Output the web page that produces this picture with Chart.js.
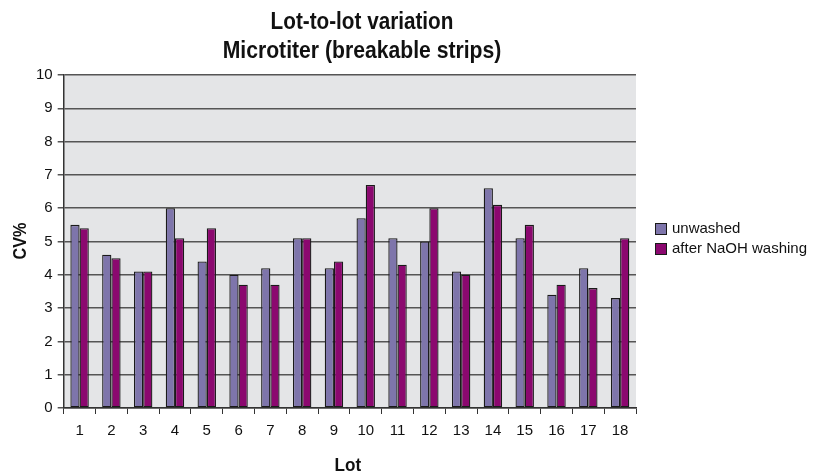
<!DOCTYPE html>
<html>
<head>
<meta charset="utf-8">
<script src="https://cdn.jsdelivr.net/npm/chart.js@4.4.1/dist/chart.umd.min.js"></script>
<style>
  html, body { margin: 0; padding: 0; background: #ffffff; }
  #wrap { width: 826px; height: 473px; }
</style>
</head>
<body>
<div id="wrap"><canvas id="chartLotes" width="826" height="473"></canvas></div>
<script>
var lotes = ['1','2','3','4','5','6','7','8','9','10','11','12','13','14','15','16','17','18'];
var sinLavar = [5.5, 4.6, 4.1, 6.0, 4.4, 4.0, 4.2, 5.1, 4.2, 5.7, 5.1, 5.0, 4.1, 6.6, 5.1, 3.4, 4.2, 3.3];
var conNaOH = [5.4, 4.5, 4.1, 5.1, 5.4, 3.7, 3.7, 5.1, 4.4, 6.7, 4.3, 6.0, 4.0, 6.1, 5.5, 3.7, 3.6, 5.1];
var ticksY = [0, 1, 2, 3, 4, 5, 6, 7, 8, 9, 10];
var titulo = ['Lot-to-lot variation', 'Microtiter (breakable strips)'];
var tituloX = 'Lot';
var tituloY = 'CV%';

var fuente = "'Liberation Sans', Arial, sans-serif";

// texto en negrita "estrecho": se comprime en horizontal
function textoAngosto(ctx, txt, x, y, size, escala, rot) {
    ctx.save();
    ctx.translate(x, y);
    if (rot) { ctx.rotate(rot); }
    ctx.scale(escala, 1);
    ctx.font = 'bold ' + size + 'px ' + fuente;
    ctx.fillStyle = '#111';
    ctx.textAlign = 'center';
    ctx.textBaseline = 'middle';
    ctx.fillText(txt, 0, 0);
    ctx.restore();
}

var fondoArea = {
    id: 'fondoArea',
    beforeDraw: function (chart) {
        var a = chart.chartArea, ctx = chart.ctx;
        ctx.save();
        ctx.fillStyle = '#e4e5e7';
        ctx.fillRect(a.left, a.top, a.right - a.left, a.bottom - a.top);
        ctx.restore();
    }
};

var textos = {
    id: 'textos',
    afterDraw: function (chart) {
        var ctx = chart.ctx, a = chart.chartArea;
        textoAngosto(ctx, titulo[0], 362, 23, 23, 0.9);
        textoAngosto(ctx, titulo[1], 362, 52, 23, 0.92);
        textoAngosto(ctx, tituloX, (a.left + a.right) / 2 - 2, 466, 19, 0.9);
        textoAngosto(ctx, tituloY, 21, 241, 18, 0.9, -Math.PI / 2);

        // leyenda a la derecha
        ctx.save();
        ctx.font = '15px ' + fuente;
        ctx.textBaseline = 'middle';
        chart.data.datasets.forEach(function (ds, i) {
            var y = 229 + i * 20;
            ctx.fillStyle = ds.backgroundColor;
            ctx.fillRect(656, y - 5, 10, 10);
            ctx.strokeStyle = '#1a1a1a';
            ctx.lineWidth = 1;
            ctx.strokeRect(655.5, y - 5.5, 11, 11);
            ctx.fillStyle = '#111';
            ctx.fillText(ds.label, 672, y);
        });
        ctx.restore();
    }
};

new Chart(document.getElementById('chartLotes'), {
    type: 'bar',
    data: {
        labels: lotes,
        datasets: [
            { label: 'unwashed', data: sinLavar, backgroundColor: '#7e75ab', borderColor: '#1a1a1a', borderWidth: 1.3, borderSkipped: false, inflateAmount: 0 },
            { label: 'after NaOH washing', data: conNaOH, backgroundColor: '#8b086f', borderColor: '#1a1a1a', borderWidth: 1.3, borderSkipped: false, inflateAmount: 0 }
        ]
    },
    options: {
        responsive: false,
        animation: false,
        layout: { padding: { left: 31, right: 190, top: 75, bottom: 25 } },
        datasets: { bar: { categoryPercentage: 0.58, barPercentage: 1.0 } },
        plugins: {
            title: { display: false },
            legend: { display: false },
            tooltip: { enabled: false }
        },
        scales: {
            x: {
                grid: { offset: true, drawOnChartArea: false, drawTicks: true, tickLength: 6, color: '#333', lineWidth: 1 },
                border: { color: '#333', width: 1.5 },
                ticks: { font: { size: 15 }, color: '#111', padding: 8, maxRotation: 0 }
            },
            y: {
                min: 0,
                max: 10,
                afterBuildTicks: function (axis) {
                    axis.ticks = ticksY.map(function (v) { return { value: v }; });
                },
                grid: { color: '#555', lineWidth: 1.5, tickLength: 6 },
                border: { color: '#333', width: 1.5 },
                ticks: { font: { size: 15 }, color: '#111', padding: 5 }
            }
        }
    },
    plugins: [fondoArea, textos]
});
</script>
</body>
</html>
